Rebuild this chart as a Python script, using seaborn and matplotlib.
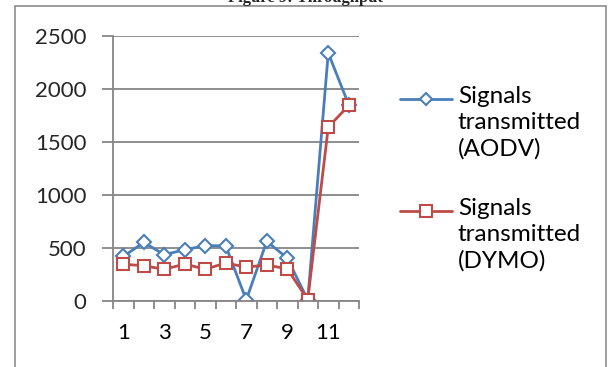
import matplotlib
matplotlib.use("Agg")
import matplotlib.pyplot as plt
from matplotlib.patches import Rectangle
from matplotlib.lines import Line2D
import seaborn as sns
import pandas as pd

# Throughput data per scenario
scenarios = list(range(1, 13))
aodv = [420, 553, 437, 484, 522, 520, 10, 563, 405, 10, 2340, 1850]
dymo = [348, 332, 300, 348, 300, 358, 320, 339, 304, 12, 1640, 1845]
series_labels = ["Signals\ntransmitted\n(AODV)", "Signals\ntransmitted\n(DYMO)"]
ytick_values = [0, 500, 1000, 1500, 2000, 2500]
xtick_labels = ["1", "3", "5", "7", "9", "11"]

blue = "#4A7EBB"
red = "#BE4B48"
grid_gray = "#868686"

sns.set_theme(style="white")
plt.rcParams["font.family"] = ["Lato", "DejaVu Sans"]

W, H = 614, 367
fig = plt.figure(figsize=(W / 100, H / 100), dpi=100)
ax = fig.add_axes([113 / W, 1 - 301 / H, (359 - 113) / W, (301 - 36) / H])

df = pd.DataFrame({"scenario": scenarios, "aodv": aodv, "dymo": dymo})
styles = [
    dict(y="aodv", color=blue, marker="D", markersize=7),
    dict(y="dymo", color=red, marker="s", markersize=9),
]
for st in styles:
    sns.lineplot(data=df, x="scenario", y=st["y"], ax=ax, color=st["color"],
                 lw=2, marker=st["marker"], markersize=st["markersize"],
                 markerfacecolor="white", markeredgecolor=st["color"],
                 markeredgewidth=1.5, legend=False)

ax.set_xlim(0.5, 12.5)
ax.set_ylim(0, 2500)
ax.set_xlabel("")
ax.set_ylabel("")

# horizontal gridlines only
ax.set_yticks(ytick_values)
ax.yaxis.grid(True, color=grid_gray, lw=1.3)
ax.xaxis.grid(False)
ax.set_axisbelow(True)

# category boundaries as major ticks, labels on odd categories
ax.set_xticks([i + 0.5 for i in range(0, 13)])
ax.set_xticklabels([])
ax.set_xticks([1, 3, 5, 7, 9, 11], minor=True)
ax.set_xticklabels(xtick_labels, minor=True)
ax.tick_params(axis="x", which="major", direction="out", length=6,
               color=grid_gray, width=1.3, bottom=True)
ax.tick_params(axis="x", which="minor", length=0, labelsize=16, pad=16,
               colors="black", bottom=True)
ax.tick_params(axis="y", direction="out", length=8, color=grid_gray,
               width=1.3, labelsize=16, pad=11, left=True)

for side in ["top", "right"]:
    ax.spines[side].set_visible(False)
for side in ["left", "bottom"]:
    ax.spines[side].set_color(grid_gray)
    ax.spines[side].set_linewidth(1.3)

# legend: sample line with marker, label text starting at its first line
legend_rows = [99, 211]
for st, label, ly in zip(styles, series_labels, legend_rows):
    yf = 1 - ly / H
    fig.add_artist(Line2D([400 / W, 452 / W], [yf, yf], transform=fig.transFigure,
                          color=st["color"], lw=2))
    fig.add_artist(Line2D([426 / W], [yf], transform=fig.transFigure,
                          color=st["color"], marker=st["marker"],
                          markersize=st["markersize"] - 1, markerfacecolor="white",
                          markeredgecolor=st["color"], markeredgewidth=1.5))
    fig.text(458 / W, 1 - (ly - 13) / H, label, ha="left", va="top",
             fontsize=17.5, color="black", linespacing=1.29)

# chart border and caption
fig.patches.append(Rectangle((15 / W, -0.05), (606 - 15) / W, 1 - 6 / H + 0.05,
                             transform=fig.transFigure, fill=False,
                             edgecolor="#8C8C8C", lw=1.2))
fig.text(305 / W, 1 - 2 / H, "Figure 9: Throughput", ha="center",
         va="baseline", fontsize=12, fontweight="bold",
         family=["Liberation Serif", "DejaVu Serif"])

fig.savefig("out.png", dpi=100)
